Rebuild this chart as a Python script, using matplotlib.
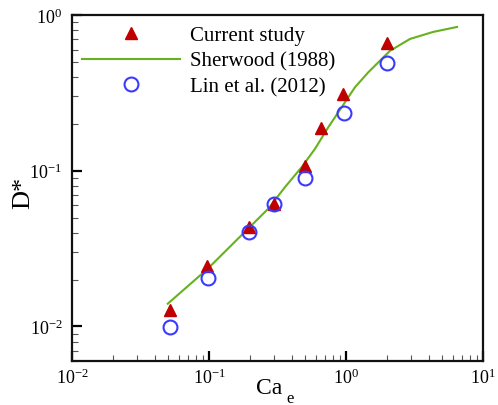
import numpy as np
import matplotlib
matplotlib.use("Agg")
import matplotlib.pyplot as plt
from matplotlib.ticker import LogLocator, LogFormatterMathtext, NullFormatter

plt.rcParams['font.family'] = ['Liberation Serif', 'DejaVu Serif']
plt.rcParams['mathtext.fontset'] = 'custom'
plt.rcParams['mathtext.rm'] = 'Liberation Serif'
plt.rcParams['mathtext.it'] = 'Liberation Serif:italic'

# --- data ---
ca_current = [0.052, 0.097, 0.195, 0.30, 0.50, 0.66, 0.95, 2.0]
d_current = [0.0128, 0.0246, 0.0438, 0.0614, 0.1076, 0.189, 0.312, 0.662]

ca_lin = [0.052, 0.099, 0.196, 0.30, 0.50, 0.97, 2.0]
d_lin = [0.0099, 0.0206, 0.0406, 0.0614, 0.0902, 0.2355, 0.492]

ca_sherwood = [0.050, 0.098, 0.193, 0.271, 0.359, 0.475, 0.594, 0.743,
               0.930, 1.163, 1.455, 1.872, 2.09, 2.93, 4.31, 6.46]
d_sherwood = [0.0140, 0.0235, 0.0425, 0.0571, 0.0786, 0.1056, 0.1384, 0.1906,
              0.256, 0.344, 0.429, 0.535, 0.588, 0.702, 0.778, 0.838]

fig = plt.figure(figsize=(4.98, 4.06), dpi=100)
ax = fig.add_axes([0.1446, 0.1084, 0.8254, 0.8522])

ax.plot(ca_current, d_current, linestyle='none', marker='^', markersize=8.6,
        color='#c00000', label='Current study', zorder=3)
ax.plot(ca_sherwood, d_sherwood, color='#66b21e', linewidth=1.5,
        label='Sherwood (1988)', zorder=2)
ax.plot(ca_lin, d_lin, linestyle='none', marker='o', markersize=10,
        markerfacecolor='none', markeredgecolor='#3a3aff', markeredgewidth=1.5,
        label='Lin et al. (2012)', zorder=4)

ax.set_xscale('log')
ax.set_yscale('log')
ax.set_xlim(0.01, 10)
ax.set_ylim(0.006, 1)

for a in (ax.xaxis, ax.yaxis):
    a.set_major_locator(LogLocator(base=10))
    a.set_major_formatter(LogFormatterMathtext())
    a.set_minor_locator(LogLocator(base=10, subs=np.arange(2, 10)))
    a.set_minor_formatter(NullFormatter())

ax.tick_params(which='major', direction='in', length=7, width=1.6,
               labelsize=13, top=False, right=False)
ax.tick_params(which='minor', direction='in', length=4, width=0.8,
               color='#555555', top=False, right=False)
ax.tick_params(axis='x', which='major', pad=5)
ax.tick_params(axis='y', which='major', pad=7)

for s in ax.spines.values():
    s.set_linewidth(1.6)
    s.set_color('#111111')

# x label "Ca" with a detached, lowered subscript "e"
ax.set_xlabel('Ca', fontsize=17)
ax.xaxis.set_label_coords(0.48, -0.045)
ax.text(0.530, -0.107, 'e', transform=ax.transAxes, fontsize=12,
        ha='center', va='center')

ax.set_ylabel('D*', fontsize=19)
ax.yaxis.set_label_coords(-0.092, 0.49)

ax.legend(loc='upper left', bbox_to_anchor=(0.024, 0.97), frameon=False,
          fontsize=15, handlelength=4.7, handletextpad=0.48, labelspacing=0.3,
          borderpad=0, borderaxespad=0, numpoints=1)

fig.savefig('out.png', dpi=100)
